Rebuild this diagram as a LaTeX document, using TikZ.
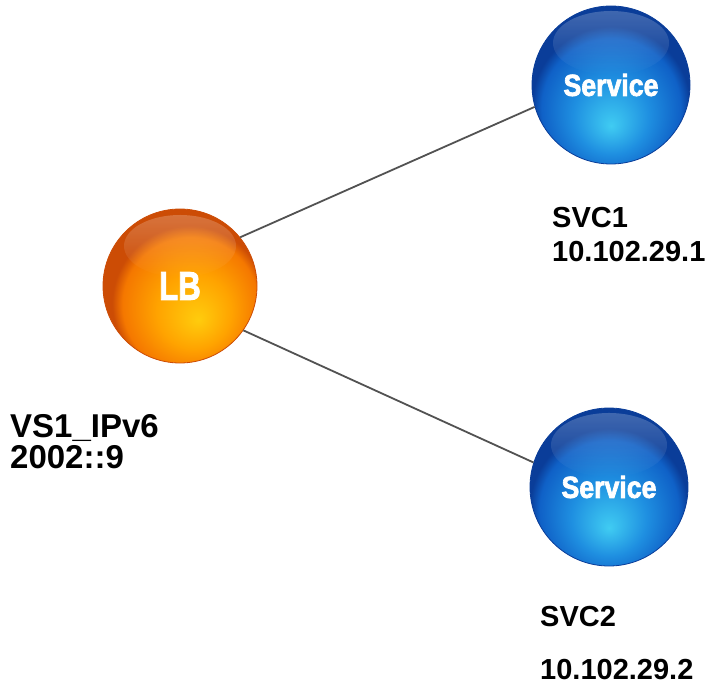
\documentclass[tikz,border=0pt]{standalone}
\usepackage{fontspec}
\setmainfont{Liberation Sans}
\newfontfamily\heavyfont{Liberation Sans}[FakeBold=2.5]
\usetikzlibrary{fadings}
\definecolor{orangeglow}{rgb}{1.00, 0.80, 0.05}
\definecolor{orangemid}{rgb}{1.00, 0.64, 0.00}
\definecolor{orangeouter}{rgb}{0.96, 0.47, 0.00}
\definecolor{orangeedge}{rgb}{0.80, 0.30, 0.02}
\definecolor{blueglow}{rgb}{0.25, 0.80, 0.95}
\definecolor{bluemid}{rgb}{0.12, 0.56, 0.88}
\definecolor{blueouter}{rgb}{0.06, 0.38, 0.78}
\definecolor{blueedge}{rgb}{0.04, 0.24, 0.60}
\definecolor{linkgray}{rgb}{0.32, 0.32, 0.32}

\pgfdeclareradialshading{orangeball}{\pgfpoint{6bp}{-11bp}}{color(0bp)=(orangeglow); color(12bp)=(orangemid); color(22bp)=(orangeouter); color(25bp)=(orangeedge); color(50bp)=(orangeedge)}
\pgfdeclareradialshading{blueball}{\pgfpoint{0bp}{-13bp}}{color(0bp)=(blueglow); color(12bp)=(bluemid); color(22bp)=(blueouter); color(25bp)=(blueedge); color(50bp)=(blueedge)}

\begin{document}
\begin{tikzpicture}[x=1pt, y=-1pt,
    sphere/.style={circle, minimum size=#1, inner sep=0pt, text=white},
    lbball/.style={sphere=154pt, shading=orangeball, draw=orangeedge, line width=0.8pt,
        font=\heavyfont\bfseries\fontsize{40}{40}\selectfont},
    svcball/.style={sphere=158pt, shading=blueball, draw=blueedge, line width=0.8pt,
        font=\heavyfont\bfseries\fontsize{29}{29}\selectfont},
    gloss/.style={white, path fading=south, fill opacity=0.22},
    link/.style={draw=linkgray, line width=1.8pt},
    tag/.style={anchor=base west, inner sep=0pt, font=\bfseries\fontsize{29}{35}\selectfont},
    bigtag/.style={tag, font=\bfseries\fontsize{33}{35}\selectfont}]

    \useasboundingbox (0,0) rectangle (709,684);

    % balls
    \node[lbball] (lb) at (180,286) {\scalebox{0.78}[1]{LB}};
    \node[svcball] (svc1) at (611,85) {\scalebox{0.92}[1.05]{Service}};
    \node[svcball] (svc2) at (609,487) {\scalebox{0.92}[1.05]{Service}};

    \fill[gloss] ([yshift=40pt]lb.center) ellipse [x radius=56pt, y radius=31pt];
    \fill[gloss] ([yshift=42pt]svc1.center) ellipse [x radius=58pt, y radius=32pt];
    \fill[gloss] ([yshift=42pt]svc2.center) ellipse [x radius=58pt, y radius=32pt];

    % links
    \path[link] (lb.39) -- (svc1.196);
    \path[link] (lb.-35) -- (svc2.162);

    % labels
    \node[bigtag] (vsname) at (10,437) {VS1\_IPv6};
    \node[bigtag] (vsip) at (10,468) {2002::9};
    \node[tag] (svc1name) at (552,228) {SVC1};
    \node[tag] (svc1ip) at (552,262) {10.102.29.1};
    \node[tag] (svc2name) at (540,626) {SVC2};
    \node[tag] (svc2ip) at (540,679) {10.102.29.2};
\end{tikzpicture}
\end{document}
